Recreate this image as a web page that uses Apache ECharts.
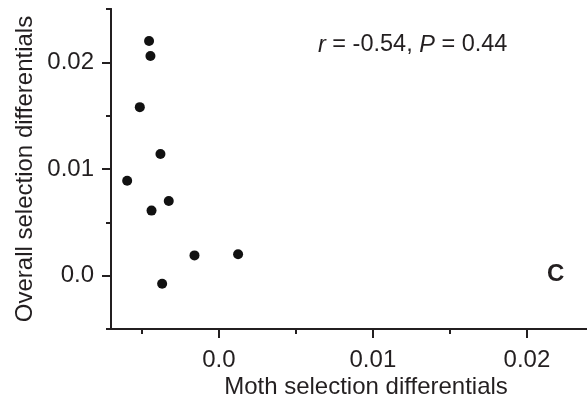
<!DOCTYPE html>
<html lang="en">
<head>
    <meta charset="UTF-8">
    <title>Moth vs overall selection differentials</title>
    <script src="https://cdn.jsdelivr.net/npm/echarts@6.0.0/dist/echarts.min.js"></script>
    <style>
        html, body {
            margin: 0;
            padding: 0;
            background: #fff;
        }
        #chart {
            width: 587px;
            height: 401px;
        }
    </style>
</head>
<body>
    <div id="chart"></div>

    <script>
        // moth selection differentials (x) and overall selection differentials (y)
        const mothSel = [-0.00453, -0.00444, -0.00513, -0.00379, -0.00595, -0.00325, -0.00437, -0.00158, 0.00125, -0.00368];
        const overallSel = [0.0220, 0.0206, 0.0158, 0.0114, 0.0089, 0.0070, 0.0061, 0.0019, 0.0020, -0.00075];

        const xMajorTicks = [0, 0.01, 0.02];
        const xMinorTicks = [-0.005, 0.005, 0.015];
        const yMajorTicks = [0, 0.01, 0.02];
        const yMinorTicks = [-0.005, 0.005, 0.015, 0.025];

        const ink = '#231f20';
        const font = "'Liberation Sans', Arial, Helvetica, sans-serif";

        function fmtTick(v) {
            return Math.abs(v) < 1e-9 ? '0.0' : (+v).toFixed(2);
        }

        const chart = echarts.init(document.getElementById('chart'));

        const baseAxis = {
            type: 'value',
            splitLine: { show: false },
            axisLine: { show: true, onZero: false, lineStyle: { color: ink, width: 2 } }
        };

        chart.setOption({
            animation: false,
            grid: { left: 111, right: 0, top: 9, bottom: 72, containLabel: false, outerBoundsMode: 'none' },
            xAxis: [
                Object.assign({}, baseAxis, {
                    position: 'bottom',
                    min: -0.007, max: 0.0239,
                    axisTick: { customValues: xMinorTicks, length: 5, lineStyle: { color: ink, width: 2 } },
                    axisLabel: { show: false },
                    name: 'Moth selection differentials',
                    nameLocation: 'middle',
                    nameGap: 46,
                    nameTextStyle: { color: ink, fontSize: 24, fontFamily: font, padding: [0, 0, 0, 34] }
                }),
                Object.assign({}, baseAxis, {
                    position: 'bottom',
                    min: -0.007, max: 0.0239,
                    axisTick: { customValues: xMajorTicks, length: 9, lineStyle: { color: ink, width: 2 } },
                    axisLabel: {
                        show: true,
                        customValues: xMajorTicks,
                        margin: 19,
                        color: ink, fontSize: 24, fontFamily: font,
                        formatter: fmtTick
                    }
                })
            ],
            yAxis: [
                Object.assign({}, baseAxis, {
                    position: 'left',
                    min: -0.005, max: 0.025,
                    axisTick: { customValues: yMinorTicks, length: 5, lineStyle: { color: ink, width: 2 } },
                    axisLabel: { show: false },
                    name: 'Overall selection differentials',
                    nameLocation: 'middle',
                    nameGap: 74,
                    nameTextStyle: { color: ink, fontSize: 24, fontFamily: font }
                }),
                Object.assign({}, baseAxis, {
                    position: 'left',
                    min: -0.005, max: 0.025,
                    axisTick: { customValues: yMajorTicks, length: 9, lineStyle: { color: ink, width: 2 } },
                    axisLabel: {
                        show: true,
                        customValues: yMajorTicks,
                        margin: 17,
                        color: ink, fontSize: 24, fontFamily: font,
                        formatter: fmtTick
                    }
                })
            ],
            graphic: [
                {
                    type: 'text',
                    left: 318,
                    top: 33,
                    style: {
                        text: '{i|r} = -0.54, {i|P} = 0.44',
                        fill: ink,
                        font: '23.5px ' + font,
                        rich: {
                            i: { fontStyle: 'italic', fontSize: 23.5, fontFamily: font, fill: ink }
                        }
                    }
                },
                {
                    type: 'text',
                    left: 547,
                    top: 262,
                    style: { text: 'C', fill: ink, font: 'bold 24px ' + font }
                }
            ],
            series: [{
                type: 'scatter',
                xAxisIndex: 0,
                yAxisIndex: 0,
                symbolSize: 10,
                itemStyle: { color: '#111', opacity: 1 },
                data: mothSel.map((x, i) => [x, overallSel[i]])
            }]
        });
    </script>
</body>
</html>
